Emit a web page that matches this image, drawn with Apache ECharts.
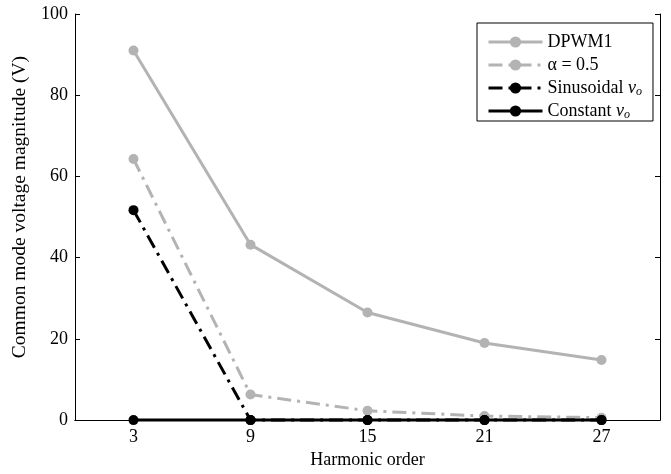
<!DOCTYPE html>
<html>
<head>
<meta charset="utf-8">
<script src="https://cdn.jsdelivr.net/npm/echarts@6/dist/echarts.min.js"></script>
<style>html,body{margin:0;padding:0;background:#fff}#c{width:671px;height:474px}</style>
</head>
<body>
<div id="c"></div>
<script>
var categories = ['3', '9', '15', '21', '27'];
var dpwm1 = [91.0, 43.2, 26.5, 19.0, 14.8];
var alpha05 = [64.3, 6.3, 2.3, 1.0, 0.6];
var sinusoidal = [51.7, 0, 0, 0, 0];
var constant = [0, 0, 0, 0, 0];
var yTicks = [0, 20, 40, 60, 80, 100];

var FONT = 'Liberation Serif';
var GRAY = '#b3b3b3';
var chart = echarts.init(document.getElementById('c'), null, {renderer: 'canvas'});

function mk(name, data, color, type, z) {
  return {
    name: name, type: 'line', data: data, clip: false, z: z,
    symbol: 'circle', symbolSize: 10,
    itemStyle: {color: color},
    lineStyle: {color: color, width: 3, type: type},
    emphasis: {disabled: true},
    animation: false
  };
}

var option = {
  animation: false,
  grid: {left: 75, right: 11, top: 14, bottom: 49, containLabel: false},
  xAxis: [{
    type: 'category', data: categories, boundaryGap: true, position: 'bottom',
    name: 'Harmonic order', nameLocation: 'middle', nameGap: 30,
    nameTextStyle: {fontFamily: FONT, fontSize: 18, color: '#000'},
    axisLine: {lineStyle: {color: '#000', width: 1}},
    axisTick: {inside: true, length: 5, alignWithLabel: true, lineStyle: {color: '#000'}},
    axisLabel: {fontFamily: FONT, fontSize: 18, color: '#000', margin: 8},
    splitLine: {show: false}
  }, {
    type: 'category', data: categories, boundaryGap: true, position: 'top',
    axisLine: {lineStyle: {color: '#000', width: 1}},
    axisTick: {inside: true, length: 5, alignWithLabel: true, lineStyle: {color: '#000'}},
    axisLabel: {show: false}, splitLine: {show: false}
  }],
  yAxis: [{
    type: 'value', min: 0, max: 100, interval: 20, position: 'left',
    name: 'Common mode voltage magnitude (V)', nameLocation: 'middle', nameGap: 43,
    nameTextStyle: {fontFamily: FONT, fontSize: 19.5, color: '#000', padding: [0, 0, 0, 20]},
    axisLine: {show: true, lineStyle: {color: '#000', width: 1}},
    axisTick: {show: true, inside: true, length: 5, lineStyle: {color: '#000'}},
    axisLabel: {fontFamily: FONT, fontSize: 18, color: '#000', margin: 7,
      formatter: function (v) { return yTicks.indexOf(v) >= 0 ? String(v) : ''; }},
    splitLine: {show: false}
  }, {
    type: 'value', min: 0, max: 100, interval: 20, position: 'right',
    axisLine: {show: true, lineStyle: {color: '#000', width: 1}},
    axisTick: {show: true, inside: true, length: 5, lineStyle: {color: '#000'}},
    axisLabel: {show: false}, splitLine: {show: false}
  }],
  legend: {
    orient: 'vertical', left: 477, top: 23,
    backgroundColor: '#fff', borderColor: '#000', borderWidth: 1,
    padding: [10, 11, 0, 10], itemGap: 4, itemWidth: 54, itemHeight: 14,
    lineStyle: {width: 3},
    itemStyle: {borderWidth: 0},
    data: ['DPWM1', 'alpha', 'Sinusoidal', 'Constant'],
    textStyle: {
      fontFamily: FONT, fontSize: 18, color: '#000',
      rich: {
        n: {fontFamily: FONT, fontSize: 18, color: '#000'},
        v: {fontFamily: FONT, fontSize: 18, fontStyle: 'italic', color: '#000'},
        s: {fontFamily: FONT, fontSize: 12, fontStyle: 'italic', color: '#000', padding: [8, 0, 0, 0]}
      }
    },
    formatter: function (name) {
      if (name === 'alpha') return '{n|\u03b1 = 0.5}{s| }';
      if (name === 'Sinusoidal') return '{n|Sinusoidal }{v|v}{s|o}';
      if (name === 'Constant') return '{n|Constant }{v|v}{s|o}';
      return '{n|' + name + '}{s| }';
    }
  },
  series: [
    mk('DPWM1', dpwm1, GRAY, 'solid', 2),
    mk('alpha', alpha05, GRAY, [14, 6, 3, 6], 3),
    mk('Sinusoidal', sinusoidal, '#000', [14, 6, 3, 6], 4),
    mk('Constant', constant, '#000', 'solid', 5)
  ]
};
chart.setOption(option);
</script>
</body>
</html>
